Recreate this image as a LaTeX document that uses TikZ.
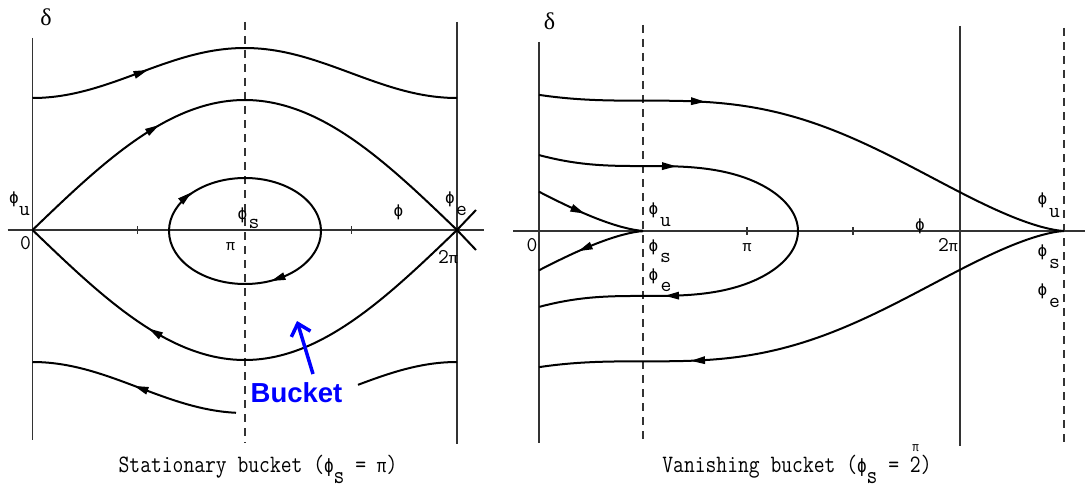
\documentclass[tikz,border=0pt]{standalone}
\usepackage{fontspec}
\usetikzlibrary{arrows.meta}
\newfontfamily\grfont{Liberation Serif}
\newfontfamily\monogr{Liberation Mono}
\newfontfamily\phifont{DejaVu Sans Mono}
\newfontfamily\bucketfont{Liberation Sans}
\newcommand\mhead[3]{\fill[shift={(#1,#2)},rotate=#3] (7pt,0pt) -- (-7pt,4pt) -- (-7pt,-4pt) -- cycle;}
\newcommand\PHI{{\phifont ϕ}}
\begin{document}
\begin{tikzpicture}[x=1pt,y=-1pt,
  ax/.style={line width=1.2pt, black!80},
  dsh/.style={line width=1.2pt, black!80, dash pattern=on 8pt off 6pt},
  crv/.style={line width=2pt, black},
  ph/.style={font=\fontsize{16}{19}\selectfont\phifont, inner sep=0pt},
  sb/.style={font=\fontsize{21}{24}\selectfont\ttfamily, inner sep=0pt},
  num/.style={font=\fontsize{21}{24}\selectfont\ttfamily, inner sep=0pt},
  pisym/.style={font=\fontsize{15}{18}\selectfont\monogr, inner sep=0pt},
  captxt/.style={font=\fontsize{25}{28}\selectfont\ttfamily, inner sep=0pt, anchor=base},
  dlt/.style={font=\fontsize{24}{27}\selectfont\grfont, inner sep=0pt}
]
\fill[white] (0,0) rectangle (1085,487);
\useasboundingbox (0,0) rectangle (1085,487);

% ================= left panel =================
\draw[ax] (32.5,38) -- (32.5,440);
\draw[ax] (7.6,230) -- (484,230);
\draw[dsh] (245,22) -- (245,443);
\draw[ax] (457,22) -- (457,444);
\draw[ax] (137.7,226) -- (137.7,234);
\draw[ax] (351.2,226) -- (351.2,234);

\draw[crv] plot[domain=32.5:457,samples=90] (\x,{98-25*(1-cos(360*((\x-32.5)/424.5)))});
\draw[crv] plot[domain=32.5:457,samples=90] (\x,{230-130*sin(180*((\x-32.5)/424.5))});
\draw[crv] plot[domain=32.5:457,samples=90] (\x,{230+130*sin(180*((\x-32.5)/424.5))});
\draw[crv] (457,230) -- (476,210);
\draw[crv] (457,230) -- (476,250);
\draw[crv] (245,231) ellipse [x radius=76, y radius=53];
\draw[crv] plot[domain=32.5:236,samples=50] (\x,{362+25.5*(1-cos(360*((\x-32.5)/424.5)))});
\draw[crv] plot[domain=358:457,samples=30] (\x,{362+25.5*(1-cos(360*((\x-32.5)/424.5)))});

\mhead{141}{72.5}{20}
\mhead{153}{128.8}{31}
\mhead{155}{332.3}{149}
\mhead{186}{197}{40}
\mhead{278}{278.5}{200}
\mhead{141}{388.4}{160}

\node[dlt] (d1) at (46,17) {δ};
\node[ph] (phu1) at (14,199.5) {ϕ};
\node[sb] (u1) at (24.5,211) {u};
\node[num] (z1) at (25.5,243.5) {0};
\node[ph] (phs1) at (242.5,215.5) {ϕ};
\node[sb] (s1) at (254,224) {s};
\node[pisym] (pi1) at (230.5,247) {π};
\node[ph] (phx1) at (398.5,212.5) {ϕ};
\node[ph] (phe1) at (450,199.5) {ϕ};
\node[sb] (e1) at (461.5,211) {e};
\node[inner sep=0pt] (tp1) at (448,257) {\fontsize{21}{24}\selectfont\ttfamily 2\fontsize{15}{18}\selectfont\monogr π};

\node[font=\fontsize{27.5}{30}\selectfont\bucketfont\bfseries, text=blue, inner sep=0pt] (bucket) at (296.5,393) {Bucket};
\coordinate (bs) at (313,374);
\coordinate (bt) at (297,321);
\draw[blue, line width=3.5pt, -{Straight Barb[length=11pt,width=20pt,line width=3.5pt]}] (bs) -- (bt);

\node[captxt] (cap1) at (258,472) {\scalebox{0.84}[1]{Stationary bucket ({\fontsize{19}{20}\selectfont\PHI}\raisebox{-11pt}{s} = {\fontsize{19}{20}\selectfont\monogr π})}};

% ================= right panel =================
\draw[ax] (539,42) -- (539,443);
\draw[ax] (513,231) -- (1085,231);
\draw[dsh] (643,25) -- (643,443);
\draw[ax] (960,26) -- (960,446);
\draw[dsh] (1064,28) -- (1064,447);
\draw[ax] (747,227) -- (747,235);
\draw[ax] (853,227) -- (853,235);

\draw[crv] plot[domain=539:1064,samples=160] (\x,{231-52*sqrt(max(0,7.85398-(\x-539)/66.845-cos(deg((\x-539)/66.845))))});
\draw[crv] plot[domain=539:1064,samples=160] (\x,{231+52*sqrt(max(0,7.85398-(\x-539)/66.845-cos(deg((\x-539)/66.845))))});
\draw[crv] plot[domain=539:643,samples=60] (\x,{231-52*sqrt(max(0,1.5708-(\x-539)/66.845-cos(deg((\x-539)/66.845))))});
\draw[crv] plot[domain=539:643,samples=60] (\x,{231+52*sqrt(max(0,1.5708-(\x-539)/66.845-cos(deg((\x-539)/66.845))))});
\draw[crv] plot[domain=1:0,samples=80,variable=\t] ({539+259*(1-\t*\t)},{231-52*sqrt(max(0,3.1316-3.8747*(1-\t*\t)-cos(deg(3.8747*(1-\t*\t)))))})
  -- plot[domain=0:1,samples=80,variable=\t] ({539+259*(1-\t*\t)},{231+52*sqrt(max(0,3.1316-3.8747*(1-\t*\t)-cos(deg(3.8747*(1-\t*\t)))))});

\mhead{698}{101.5}{-2.8}
\mhead{698}{360.5}{182.8}
\mhead{669}{166.2}{-0.7}
\mhead{672}{295.7}{180.7}
\mhead{578}{210.7}{-24}
\mhead{585}{248.3}{203.2}

\node[dlt] (d2) at (549.5,21.5) {δ};
\node[num] (z2) at (532,245) {0};
\node[ph] (phu2) at (653.5,210) {ϕ};
\node[sb] (u2) at (665.5,222) {u};
\node[ph] (phs2) at (653.5,247) {ϕ};
\node[sb] (s2) at (665.5,257.5) {s};
\node[ph] (phe2) at (653.5,276.5) {ϕ};
\node[sb] (e2) at (666,286.5) {e};
\node[pisym] (pi2) at (747,248) {π};
\node[ph] (phx2) at (920,226.5) {ϕ};
\node[inner sep=0pt] (tp2) at (948,245) {\fontsize{21}{24}\selectfont\ttfamily 2\fontsize{15}{18}\selectfont\monogr π};
\node[ph] (phu3) at (1042.5,200.5) {ϕ};
\node[sb] (u3) at (1054.5,213) {u};
\node[ph] (phs3) at (1042.5,252.5) {ϕ};
\node[sb] (s3) at (1054.5,263.5) {s};
\node[ph] (phe3) at (1042.5,291.5) {ϕ};
\node[sb] (e3) at (1054.5,303) {e};

\node[captxt] (cap2) at (797,472) {\scalebox{0.84}[1]{Vanishing bucket ({\fontsize{19}{20}\selectfont\PHI}\raisebox{-11pt}{s} = \rlap{\raisebox{21pt}{\hspace{3pt}\fontsize{13}{14}\selectfont\monogr π}}2)}};
\end{tikzpicture}
\end{document}
